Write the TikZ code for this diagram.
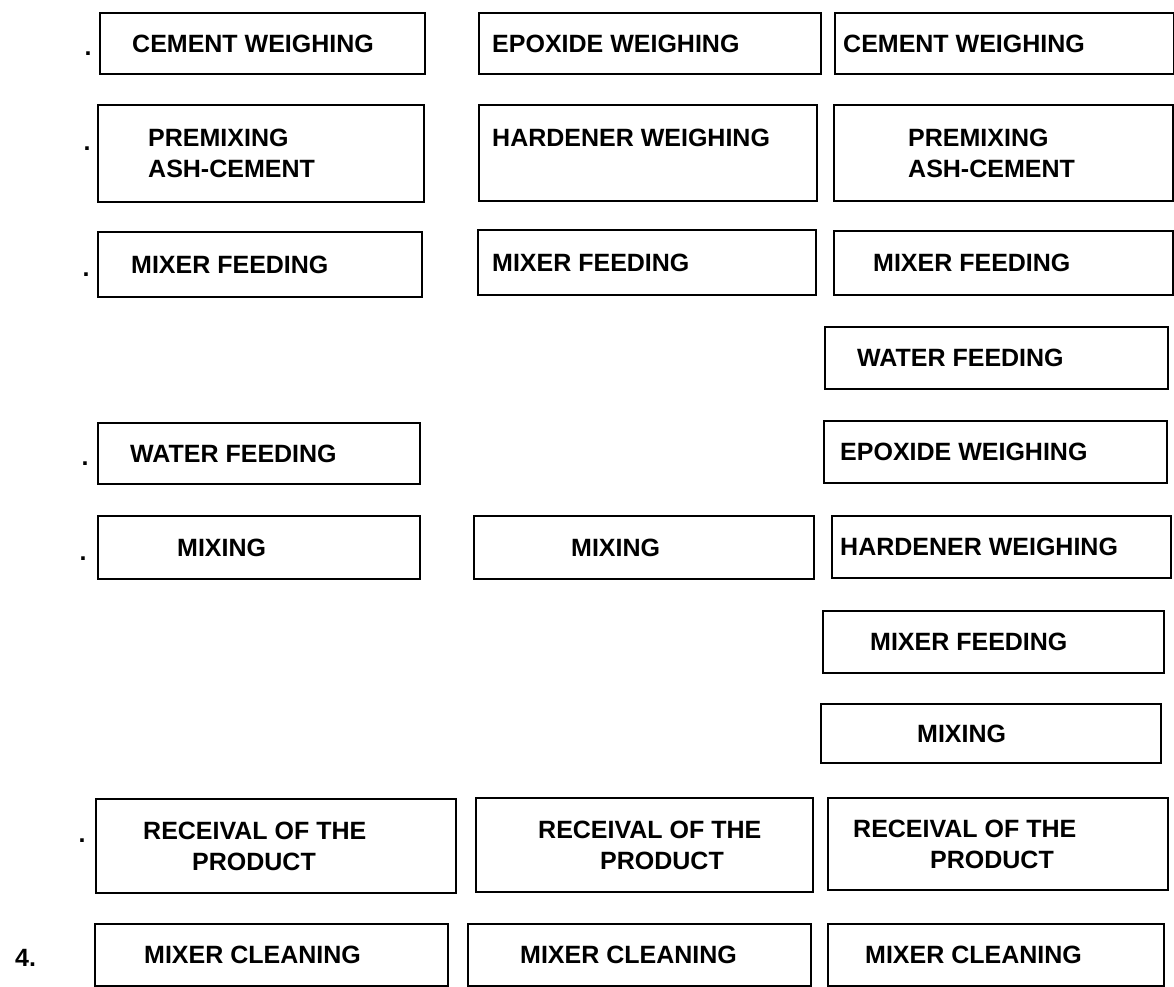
\documentclass[tikz,border=0pt]{standalone}
\usepackage{fontspec}
\setmainfont{Liberation Sans}
\usetikzlibrary{positioning}

\begin{document}
\begin{tikzpicture}[x=1pt,y=-1pt,
font=\fontsize{25}{31}\selectfont\bfseries]

\tikzstyle{stepbox}=[rectangle, draw, line width=2.2pt, anchor=north west, inner sep=0pt]
\tikzstyle{lbl}=[inner sep=0pt, align=left, text=black]
\tikzstyle{numdot}=[inner sep=0pt, anchor=base]

\useasboundingbox (0,0) rectangle (1174,986);

%first column
\node[stepbox, minimum width=325pt, minimum height=61pt] (a1) at (99,12) {};
\node[stepbox, minimum width=326pt, minimum height=97pt] (a2) at (97,104) {};
\node[stepbox, minimum width=324pt, minimum height=65pt] (a3) at (97,231) {};
\node[stepbox, minimum width=322pt, minimum height=61pt] (a4) at (97,422) {};
\node[stepbox, minimum width=322pt, minimum height=63pt] (a5) at (97,515) {};
\node[stepbox, minimum width=360pt, minimum height=94pt] (a6) at (95,798) {};
\node[stepbox, minimum width=353pt, minimum height=62pt] (a7) at (94,923) {};

\node[lbl, right=33pt of a1.west] (a1t) {CEMENT WEIGHING};
\node[lbl, right=51pt of a2.west] (a2t) {PREMIXING\\ASH-CEMENT};
\node[lbl, right=34pt of a3.west] (a3t) {MIXER FEEDING};
\node[lbl, right=33pt of a4.west] (a4t) {WATER FEEDING};
\node[lbl, right=80pt of a5.west] (a5t) {MIXING};
\node[lbl, right=48pt of a6.west] (a6t) {RECEIVAL OF THE\\\hspace*{49pt}PRODUCT};
\node[lbl, right=50pt of a7.west] (a7t) {MIXER CLEANING};

\node[numdot] (p1) at (88,55) {.};
\node[numdot] (p2) at (87,150) {.};
\node[numdot] (p3) at (86,276) {.};
\node[numdot] (p4) at (85,465) {.};
\node[numdot] (p5) at (83,560) {.};
\node[numdot] (p6) at (82,842) {.};
\node[numdot, anchor=base west] (p7) at (15,966) {4.};

%second column
\node[stepbox, minimum width=342pt, minimum height=61pt] (b1) at (478,12) {};
\node[stepbox, minimum width=338pt, minimum height=96pt] (b2) at (478,104) {};
\node[stepbox, minimum width=338pt, minimum height=65pt] (b3) at (477,229) {};
\node[stepbox, minimum width=340pt, minimum height=63pt] (b5) at (473,515) {};
\node[stepbox, minimum width=337pt, minimum height=94pt] (b6) at (475,797) {};
\node[stepbox, minimum width=343pt, minimum height=62pt] (b7) at (467,923) {};

\node[lbl, right=14pt of b1.west] (b1t) {EPOXIDE WEIGHING};
\node[lbl, right=14pt of b2.west, yshift=15pt] (b2t) {HARDENER WEIGHING};
\node[lbl, right=15pt of b3.west] (b3t) {MIXER FEEDING};
\node[lbl, right=98pt of b5.west] (b5t) {MIXING};
\node[lbl, right=63pt of b6.west] (b6t) {RECEIVAL OF THE\\\hspace*{62pt}PRODUCT};
\node[lbl, right=53pt of b7.west] (b7t) {MIXER CLEANING};

%third column
\node[stepbox, minimum width=339pt, minimum height=61pt] (c1) at (834,12) {};
\node[stepbox, minimum width=339pt, minimum height=96pt] (c2) at (833,104) {};
\node[stepbox, minimum width=339pt, minimum height=64pt] (c3) at (833,230) {};
\node[stepbox, minimum width=343pt, minimum height=62pt] (c4) at (824,326) {};
\node[stepbox, minimum width=343pt, minimum height=62pt] (c5) at (823,420) {};
\node[stepbox, minimum width=339pt, minimum height=62pt] (c6) at (831,515) {};
\node[stepbox, minimum width=341pt, minimum height=62pt] (c7) at (822,610) {};
\node[stepbox, minimum width=340pt, minimum height=59pt] (c8) at (820,703) {};
\node[stepbox, minimum width=340pt, minimum height=92pt] (c9) at (827,797) {};
\node[stepbox, minimum width=336pt, minimum height=62pt] (c10) at (827,923) {};

\node[lbl, right=9pt of c1.west] (c1t) {CEMENT WEIGHING};
\node[lbl, right=75pt of c2.west] (c2t) {PREMIXING\\ASH-CEMENT};
\node[lbl, right=40pt of c3.west] (c3t) {MIXER FEEDING};
\node[lbl, right=33pt of c4.west] (c4t) {WATER FEEDING};
\node[lbl, right=17pt of c5.west] (c5t) {EPOXIDE WEIGHING};
\node[lbl, right=9pt of c6.west] (c6t) {HARDENER WEIGHING};
\node[lbl, right=48pt of c7.west] (c7t) {MIXER FEEDING};
\node[lbl, right=97pt of c8.west] (c8t) {MIXING};
\node[lbl, right=26pt of c9.west] (c9t) {RECEIVAL OF THE\\\hspace*{77pt}PRODUCT};
\node[lbl, right=38pt of c10.west] (c10t) {MIXER CLEANING};

\end{tikzpicture}
\end{document}
